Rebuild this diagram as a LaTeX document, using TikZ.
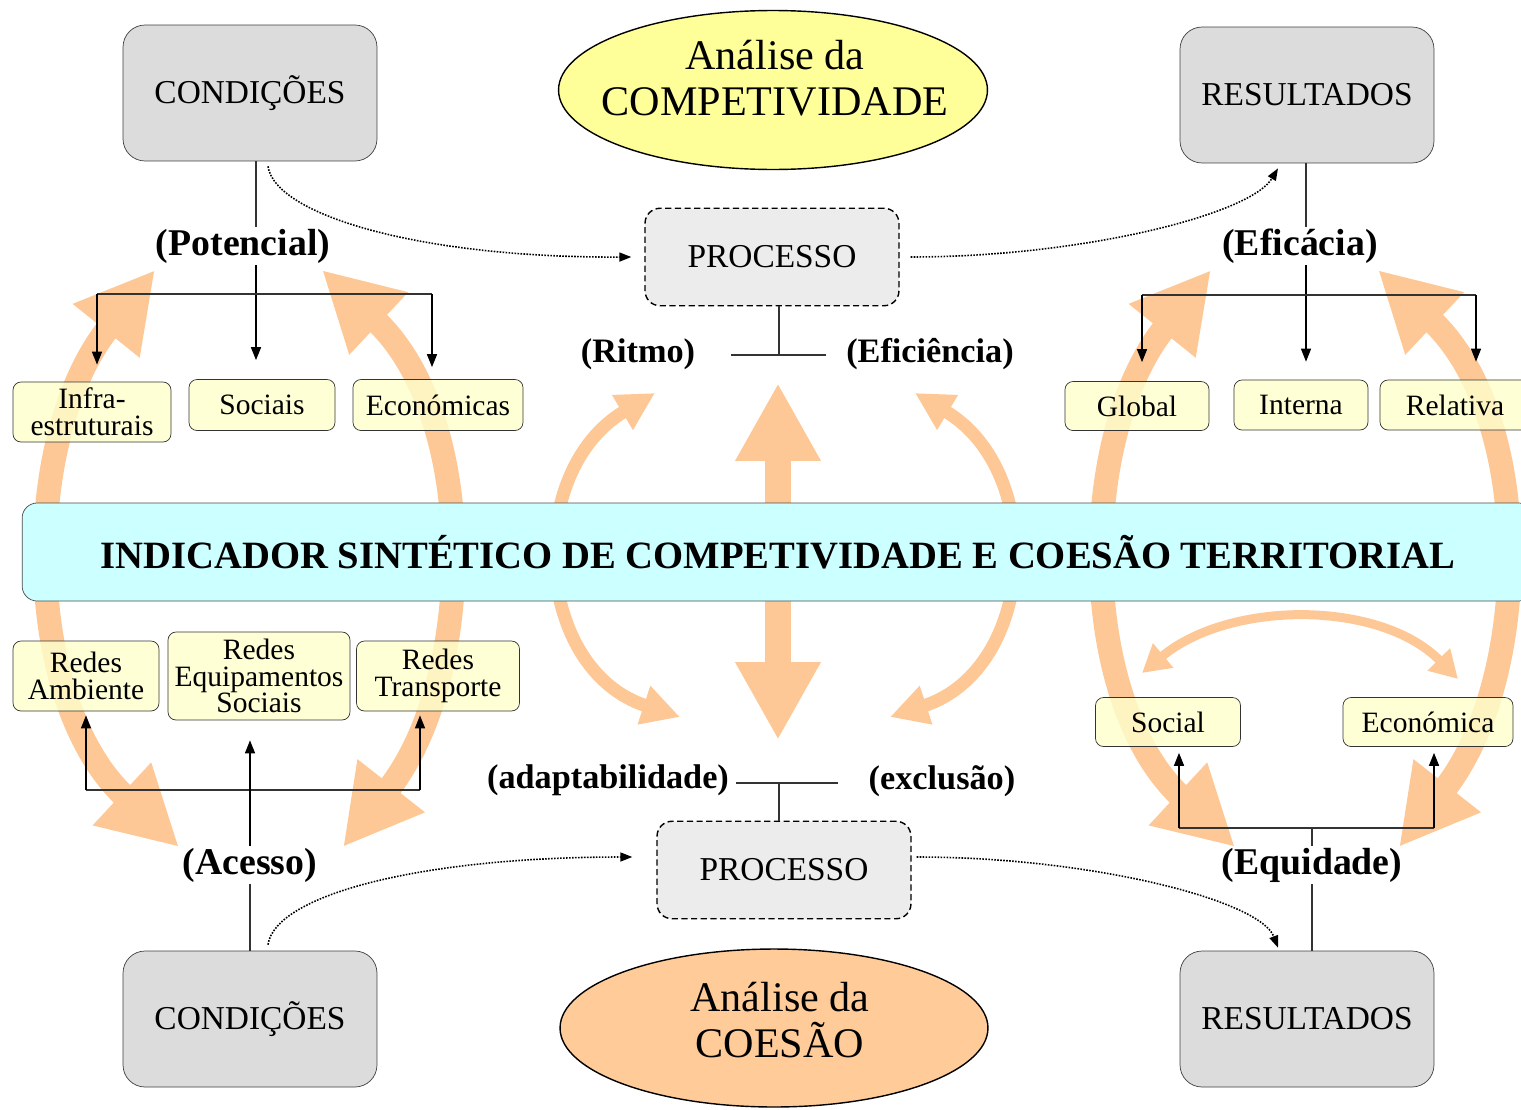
\documentclass[tikz,border=0pt]{standalone}
\usepackage{fontspec}
\setmainfont{Liberation Serif}
\usetikzlibrary{arrows.meta}

\definecolor{boxgray}{RGB}{220,220,220}
\definecolor{procgray}{RGB}{236,236,236}
\definecolor{boxyellow}{RGB}{255,255,204}
\definecolor{ellyellow}{RGB}{255,255,153}
\definecolor{ellorange}{RGB}{255,204,153}
\definecolor{bandcyan}{RGB}{204,255,255}
\definecolor{flowc}{RGB}{253,200,150}

\tikzset{
  condbox/.style={draw=black!75, fill=boxgray, rounded corners=0.44cm, minimum width=5.08cm, minimum height=2.72cm, font=\fontsize{19}{22}\selectfont},
  procbox/.style={draw, line width=0.8pt, dash pattern=on 3.5pt off 2pt, fill=procgray, rounded corners=0.3cm, minimum width=5.08cm, minimum height=1.95cm, font=\fontsize{19}{22}\selectfont},
  analise/.style={align=center, font=\fontsize{24}{26}\selectfont},
  itembox/.style={draw=black!80, fill=boxyellow, fill opacity=0.8, text opacity=1, rounded corners=0.16cm, align=center, inner sep=0pt, font=\fontsize{16.8}{15.3}\selectfont},
  band/.style={draw=black!70, fill=bandcyan, rounded corners=0.3cm, minimum width=30.24cm, minimum height=1.96cm, font=\bfseries\fontsize{22}{24}\selectfont},
  crit/.style={font=\bfseries\fontsize{21.5}{24}\selectfont, inner sep=1pt},
  subcrit/.style={font=\bfseries\fontsize{19.5}{22}\selectfont, inner sep=1pt},
  tline/.style={draw=black!80, line width=0.6pt},
  tarrow/.style={draw, line width=0.8pt, -{Triangle[length=0.26cm,width=0.2cm]}},
  dotflow/.style={draw, line width=0.9pt, dash pattern=on 0.9pt off 0.8pt, -{Triangle[length=0.24cm,width=0.18cm]}},
  bigflow/.style={draw=flowc, line width=0.48cm, {Triangle[length=1.56cm,width=1.6cm]}-{Triangle[length=1.56cm,width=1.6cm]}},
  midflow/.style={draw=flowc, line width=0.26cm, {Triangle[length=0.76cm,width=0.76cm]}-{Triangle[length=0.76cm,width=0.76cm]}},
}

\begin{document}
\begin{tikzpicture}[x=0.02cm, y=-0.02cm]
\useasboundingbox (0,0) rectangle (1521,1109);

% big orange flows (behind everything)
\foreach \dx in {0,1056}{
  \draw[bigflow, shift={(\dx,0)}] (155,270) .. controls (20,438) and (22,701) .. (179,847);
  \draw[bigflow, shift={(\dx,0)}] (322,270) .. controls (479,418) and (476,678) .. (343,847);
}
\draw[bigflow, line width=0.52cm] (778,383) -- (778,740);
\draw[midflow] (655,393) .. controls (523,472) and (534,669) .. (680,717);
\draw[midflow] (915,393) .. controls (1047,472) and (1036,669) .. (890,717);
\draw[draw=flowc, line width=0.18cm, {Triangle[length=0.55cm,width=0.6cm]}-{Triangle[length=0.55cm,width=0.6cm]}] (1142,673) .. controls (1230,600) and (1380,600) .. (1458,679);

% central band
\node[band] (ind) at (778,552) {INDICADOR SINTÉTICO DE COMPETIVIDADE E COESÃO TERRITORIAL};

% competitividade (top)
\node[condbox] (cond1) at (250,93) {CONDIÇÕES};
\node[condbox] (res1) at (1307,95) {RESULTADOS};
\draw[fill=ellyellow, line width=0.8pt] (773,90) ellipse [x radius=4.29cm, y radius=1.59cm];
\node[analise] (comp) at (775,78) {Análise da\\COMPETIVIDADE};
\node[procbox] (proc1) at (772,257) {PROCESSO};
\node[crit] (pot) at (243,246) {(Potencial)};
\node[crit] (efa) at (1300,246) {(Eficácia)};
\node[subcrit] (rit) at (638,354) {(Ritmo)};
\node[subcrit] (efi) at (930,354) {(Eficiência)};
\node[itembox, minimum width=3.16cm, minimum height=1.2cm] (infra) at (92,412) {Infra-\\estruturais};
\node[itembox, minimum width=2.92cm, minimum height=1.02cm] (soc) at (262,405) {Sociais};
\node[itembox, minimum width=3.4cm, minimum height=1.02cm] (eco) at (438,405) {Económicas};
\node[itembox, minimum width=2.88cm, minimum height=0.98cm] (glob) at (1137,406) {Global};
\node[itembox, minimum width=2.68cm, minimum height=1.0cm] (intr) at (1301,405) {Interna};
\node[itembox, minimum width=3.0cm, minimum height=1.0cm] (rel) at (1455,405) {Relativa};

% coesao (bottom)
\node[condbox] (cond2) at (250,1019) {CONDIÇÕES};
\node[condbox] (res2) at (1307,1019) {RESULTADOS};
\draw[fill=ellorange, line width=0.8pt] (774,1028) ellipse [x radius=4.28cm, y radius=1.58cm];
\node[analise] (coes) at (780,1020) {Análise da\\COESÃO};
\node[procbox] (proc2) at (784,870) {PROCESSO};
\node[crit] (ace) at (250,865) {(Acesso)};
\node[crit] (equ) at (1312,865) {(Equidade)};
\node[subcrit] (ada) at (608,780) {(adaptabilidade)};
\node[subcrit] (exc) at (942,781) {(exclusão)};
\node[itembox, minimum width=2.92cm, minimum height=1.4cm] (ramb) at (86,676) {Redes\\Ambiente};
\node[itembox, minimum width=3.64cm, minimum height=1.76cm] (requ) at (259,676) {Redes\\Equipamentos\\Sociais};
\node[itembox, minimum width=3.26cm, minimum height=1.4cm] (rtra) at (438,676) {Redes\\Transporte};
\node[itembox, minimum width=2.9cm, minimum height=0.98cm] (socl) at (1168,722) {Social};
\node[itembox, minimum width=3.4cm, minimum height=0.98cm] (econ) at (1428,722) {Económica};

% top trees
\coordinate (pj) at (256,294); \coordinate (pl) at (97,294); \coordinate (pr) at (432,294);
\draw[tline] (cond1.south -| pj) -- (pot.north -| pj);
\draw[tarrow, shorten >=0.38cm] (pot.south -| pj) -- (soc.north -| pj);
\draw[tline] (pl) -- (pr);
\draw[tarrow, shorten >=0.34cm] (pl) -- (pl |- infra.north);
\draw[tarrow, shorten >=0.24cm] (pr) -- (pr |- eco.north);
\coordinate (ej) at (1306,295); \coordinate (el) at (1142,295); \coordinate (er) at (1476,295);
\draw[tline] (res1.south -| ej) -- (efa.north -| ej);
\draw[tarrow, shorten >=0.36cm] (efa.south -| ej) -- (intr.north -| ej);
\draw[tline] (el) -- (er);
\draw[tarrow, shorten >=0.38cm] (el) -- (el |- glob.north);
\draw[tarrow, shorten >=0.36cm] (er) -- (er |- rel.north);
\coordinate (rj) at (779,355);
\draw[tline] (proc1.south -| rj) -- (rj);
\draw[tline] ([xshift=-0.96cm]rj) -- ([xshift=0.94cm]rj);

% bottom trees
\coordinate (aj) at (779,783);
\draw[tline] (proc2.north -| aj) -- (aj);
\draw[tline] ([xshift=-0.86cm]aj) -- ([xshift=1.18cm]aj);
\coordinate (al) at (86,790); \coordinate (ar) at (420,790);
\draw[tline] (al) -- (ar);
\draw[tarrow, shorten >=0.08cm] (al) -- (al |- ramb.south);
\draw[tarrow, shorten >=0.08cm] (ar) -- (ar |- rtra.south);
\draw[tarrow, shorten >=0.4cm] (ace.north -| cond2) -- (requ.south -| cond2);
\draw[tline] (ace.south -| cond2) -- (cond2.north);
\coordinate (qj) at (1312,828); \coordinate (ql) at (1179,828); \coordinate (qr) at (1434,828);
\draw[tline] (ql) -- (qr);
\draw[tline] (qj) -- (equ.north -| qj);
\draw[tarrow, shorten >=0.12cm] (ql) -- (ql |- socl.south);
\draw[tarrow, shorten >=0.12cm] (qr) -- (qr |- econ.south);
\draw[tline] (equ.south -| qj) -- (res2.north -| qj);

% dotted process flows
\draw[dotflow] ([shift={(18,5)}]cond1.south) .. controls (275,215) and (420,258) .. ([xshift=-0.26cm]proc1.west);
\draw[dotflow] ([xshift=0.22cm]proc1.east) .. controls (1080,257) and (1250,215) .. ([shift={(-29,5)}]res1.south);
\draw[dotflow] ([shift={(18,-6)}]cond2.north) .. controls (275,895) and (420,857) .. ([shift={(-24,-13)}]proc2.west);
\draw[dotflow] ([shift={(5,-13)}]proc2.east) .. controls (1090,857) and (1260,900) .. ([shift={(-29,-3)}]res2.north);
\end{tikzpicture}
\end{document}
